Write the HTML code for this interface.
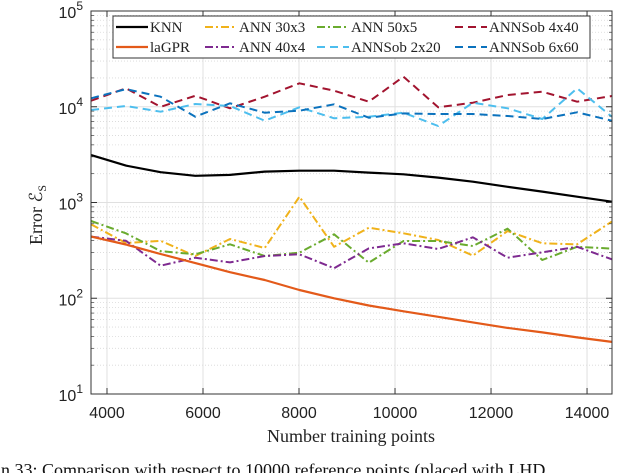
<!DOCTYPE html>
<html><head><meta charset="utf-8"><style>
html,body{margin:0;padding:0;background:#fff;width:640px;height:473px;overflow:hidden}
svg{display:block}
</style></head><body>
<svg id="chart" width="640" height="473" xmlns="http://www.w3.org/2000/svg">
<g id="grid"></g>
<g id="series"></g>
<g id="axes"></g>
<text x="351" y="442" text-anchor="middle" font-family="Liberation Serif, serif" font-size="18" fill="#222">Number training points</text>
<text transform="translate(42,215) rotate(-90)" text-anchor="middle" font-family="Liberation Serif, serif" font-size="18" fill="#222">Error ℰ<tspan font-size="12" dy="4">S</tspan></text>
<text x="-4" y="476" font-family="Liberation Serif, serif" font-size="18" fill="#111">in 33: Comparison with respect to 10000 reference points (placed with LHD</text>
<g id="legend"></g>
</svg>
<script>
const xValues = [3670, 4393, 5116, 5839, 6562, 7285, 8008, 8731, 9454, 10177, 10900, 11623, 12346, 13069, 13792, 14515];
const knn = [3130, 2430, 2070, 1900, 1940, 2100, 2150, 2150, 2050, 1970, 1820, 1650, 1460, 1300, 1150, 1020];
const lagpr = [440, 364, 290, 233, 187, 155, 122, 100, 84, 73, 64, 56, 49, 44, 39, 35];
const ann30x3 = [591, 378, 398, 276, 416, 335, 1150, 345, 546, 477, 406, 279, 504, 375, 366, 631];
const ann40x4 = [440, 398, 219, 265, 237, 276, 288, 206, 332, 375, 327, 433, 265, 302, 345, 255];
const ann50x5 = [641, 477, 311, 288, 366, 276, 299, 466, 235, 396, 396, 351, 533, 251, 345, 330];
const sob2x20 = [9250, 10190, 8870, 10690, 10190, 7150, 9860, 7570, 7870, 8670, 6290, 11030, 9630, 7450, 15600, 7870];
const sob4x40 = [11560, 15600, 10000, 13000, 9630, 12730, 17570, 14720, 11300, 20600, 9860, 11030, 13270, 14360, 11300, 12950];
const sob6x60 = [12250, 15300, 12730, 7870, 10870, 8670, 9100, 10600, 7690, 8530, 8400, 8400, 8000, 7450, 8750, 7150];
const xTicks = [4000, 6000, 8000, 10000, 12000, 14000];
const yTickExps = [1, 2, 3, 4, 5];

const NS = "http://www.w3.org/2000/svg";
const L = 91, R = 612, T = 11, B = 394;
const xMin = 3667, xMax = 14520;
function xs(v){ return L + (v - xMin) / (xMax - xMin) * (R - L); }
function ys(v){ return T + (5 - Math.log10(v)) / 4 * (B - T); }
function mk(tag, attrs, parent){ const e = document.createElementNS(NS, tag); for (const k in attrs) e.setAttribute(k, attrs[k]); parent.appendChild(e); return e; }

const grid = document.getElementById('grid');
const axes = document.getElementById('axes');
// minor grid
for (let d = 1; d < 5; d++) {
  for (let m = 2; m <= 9; m++) {
    const y = ys(m * Math.pow(10, d));
    const ln = mk('line', {x1:L, x2:R, y1:y, y2:y, stroke:'#d8d8d8', 'stroke-width':0.8, 'stroke-dasharray':'1,2'}, grid);
    
    
    const t1 = mk('line', {x1:L, x2:L+3, y1:y, y2:y, stroke:'#444', 'stroke-width':0.7}, axes);
    
    
    const t2 = mk('line', {x1:R-3, x2:R, y1:y, y2:y, stroke:'#444', 'stroke-width':0.7}, axes);
    
    
  }
}
yTickExps.forEach(e => {
  const y = ys(Math.pow(10, e));
  const g = mk('line', {x1:L, x2:R, y1:y, y2:y, stroke:'#e0e0e0', 'stroke-width':1}, grid);
  
  
  const t = mk('line', {x1:L, x2:L+6, y1:y, y2:y, stroke:'#333', 'stroke-width':1}, axes);
  
  
  const t2 = mk('line', {x1:R-6, x2:R, y1:y, y2:y, stroke:'#333', 'stroke-width':1}, axes);
  
  
  const tx = mk('text', {x:L-8, y:y+7, 'text-anchor':'end', 'font-family':'Liberation Sans, sans-serif', 'font-size':16, fill:'#222'}, axes);
  
  
  tx.textContent = '10';
  const sp = mk('tspan', {dy:-8, 'font-size':12}, tx);
  sp.textContent = String(e);
});
xTicks.forEach(v => {
  const x = xs(v);
  const g = mk('line', {x1:x, x2:x, y1:T, y2:B, stroke:'#e0e0e0', 'stroke-width':1}, grid);
  
  
  const t = mk('line', {x1:x, x2:x, y1:B-6, y2:B, stroke:'#333', 'stroke-width':1}, axes);
  
  
  const t2 = mk('line', {x1:x, x2:x, y1:T, y2:T+6, stroke:'#333', 'stroke-width':1}, axes);
  
  
  const tx = mk('text', {x:x, y:418, 'text-anchor':'middle', 'font-family':'Liberation Sans, sans-serif', 'font-size':16, fill:'#222'}, axes);
  
  
  tx.textContent = String(v);
});
const frame = mk('rect', {x:L, y:T, width:R-L, height:B-T, fill:'none', stroke:'#333', 'stroke-width':1}, axes);



const seriesDefs = [
  {name:'KNN', data:knn, color:'#000000', dash:'', w:2.2, key:'knn-line'},
  {name:'laGPR', data:lagpr, color:'#e35a1a', dash:'', w:2.2, key:'lagpr-line'},
  {name:'ANN 30x3', data:ann30x3, color:'#f0b21a', dash:'8,3,2,3', w:2, key:'ann-30x3-line'},
  {name:'ANN 40x4', data:ann40x4, color:'#7e2a90', dash:'8,3,2,3', w:2, key:'ann-40x4-line'},
  {name:'ANN 50x5', data:ann50x5, color:'#6aab2e', dash:'8,3,2,3', w:2, key:'ann-50x5-line'},
  {name:'ANNSob 2x20', data:sob2x20, color:'#4dbeee', dash:'8,5', w:2, key:'annsob-2x20-line'},
  {name:'ANNSob 4x40', data:sob4x40, color:'#a2142f', dash:'8,5', w:2, key:'annsob-4x40-line'},
  {name:'ANNSob 6x60', data:sob6x60, color:'#0b72bd', dash:'8,5', w:2, key:'annsob-6x60-line'}
];
const sg = document.getElementById('series');
const drawOrder = [6,5,7,0,2,4,3,1];
drawOrder.forEach(i => {
  const s = seriesDefs[i];
  const pts = s.data.map((v, j) => xs(xValues[j]).toFixed(1) + ',' + ys(v).toFixed(1)).join(' ');
  const p = mk('polyline', {points:pts, fill:'none', stroke:s.color, 'stroke-width':s.w, 'stroke-dasharray':s.dash, 'stroke-linejoin':'round'}, sg);
  
  
});

const lg = document.getElementById('legend');
const box = mk('rect', {x:113, y:16, width:477, height:42, fill:'#fff', stroke:'#333', 'stroke-width':1}, lg);


const cols = [116, 205, 317, 455];
const rows = [27, 47];
const order = [[0,1],[2,3],[4,5],[6,7]];
order.forEach((pair, c) => pair.forEach((si, r) => {
  const s = seriesDefs[si];
  const x = cols[c], y = rows[r];
  const ln = mk('line', {x1:x, x2:x+32, y1:y, y2:y, stroke:s.color, 'stroke-width':s.w, 'stroke-dasharray':s.dash}, lg);
  
  
  const t = mk('text', {x:x+34, y:y+5, 'font-family':'Liberation Serif, serif', 'font-size':15, fill:'#222'}, lg);
  
  
  t.textContent = s.name;
}));
</script>
</body></html>
